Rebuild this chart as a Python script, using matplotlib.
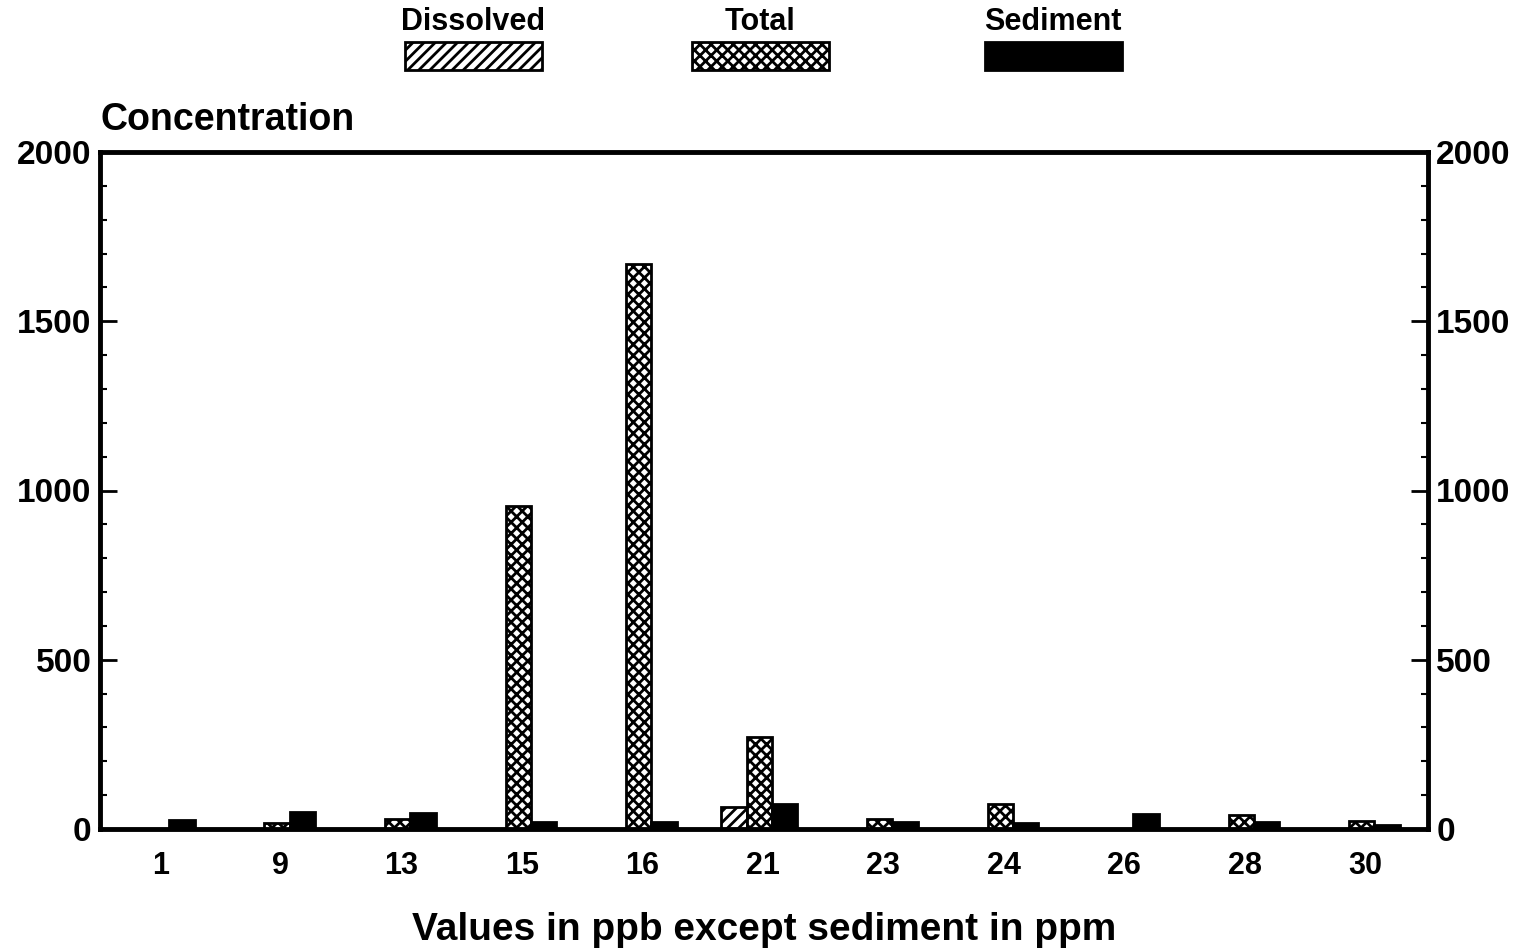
import numpy as np
import matplotlib
matplotlib.use("Agg")
import matplotlib.pyplot as plt
from matplotlib.patches import Rectangle
from matplotlib.ticker import MultipleLocator

stations = ["1", "9", "13", "15", "16", "21", "23", "24", "26", "28", "30"]
dissolved = [0, 0, 0, 0, 0, 65, 0, 0, 0, 0, 0]
total = [0, 18, 30, 955, 1670, 272, 30, 75, 0, 40, 25]
sediment = [28, 50, 48, 22, 22, 74, 20, 18, 45, 20, 12]

plt.rcParams['font.family'] = ['Liberation Sans', 'DejaVu Sans']
plt.rcParams['font.weight'] = 'bold'
plt.rcParams['hatch.linewidth'] = 2.0

fig = plt.figure(figsize=(15.34, 9.48), dpi=100)
ax = fig.add_axes([100/1534, 1 - 829/948, 1328/1534, 677/948])

x = np.arange(len(stations))
w = 0.21
off = -0.03
ax.bar(x - w + off, dissolved, w, color="white", edgecolor="black", hatch="///", linewidth=2)
ax.bar(x + off, total, w, color="white", edgecolor="black", hatch="xxx", linewidth=2)
ax.bar(x + w + off, sediment, w, color="black", edgecolor="black", linewidth=2)

ax.set_xlim(-0.5, 10.52)
ax.set_ylim(0, 2000)
ax.set_xticks(x)
ax.set_xticklabels(stations, fontsize=22, fontweight='bold')
ax.set_yticks([0, 500, 1000, 1500, 2000])
ax.yaxis.set_minor_locator(MultipleLocator(100))
ax.tick_params(axis='y', which='major', direction='in', length=12, width=2,
               labelsize=24, left=True, right=True, labelleft=True, labelright=True, pad=6)
ax.tick_params(axis='y', which='minor', direction='in', length=5, width=1.5,
               left=True, right=True)
ax.tick_params(axis='x', length=0, pad=16)
for lab in ax.get_yticklabels():
    lab.set_fontweight('bold')
for s in ax.spines.values():
    s.set_linewidth(3.5)

ax.set_xlabel("Values in ppb except sediment in ppm", fontsize=28, fontweight='bold', labelpad=22)
fig.text(100/1534, 1 - 120/948, "Concentration", fontsize=27, fontweight='bold', va='center', ha='left')

# legend across the top
legend_items = [("Dissolved", 405, dict(facecolor="white", hatch="///")),
                ("Total", 692, dict(facecolor="white", hatch="xxx")),
                ("Sediment", 985, dict(facecolor="black"))]
for name, left, style in legend_items:
    r = Rectangle((left/1534, 1 - 70/948), 137/1534, 28/948, transform=fig.transFigure,
                  edgecolor="black", linewidth=2, **style)
    fig.add_artist(r)
    fig.text((left + 68)/1534, 1 - 22/948, name, fontsize=22, fontweight='bold',
             ha='center', va='center')

fig.savefig("out.png", dpi=100)
